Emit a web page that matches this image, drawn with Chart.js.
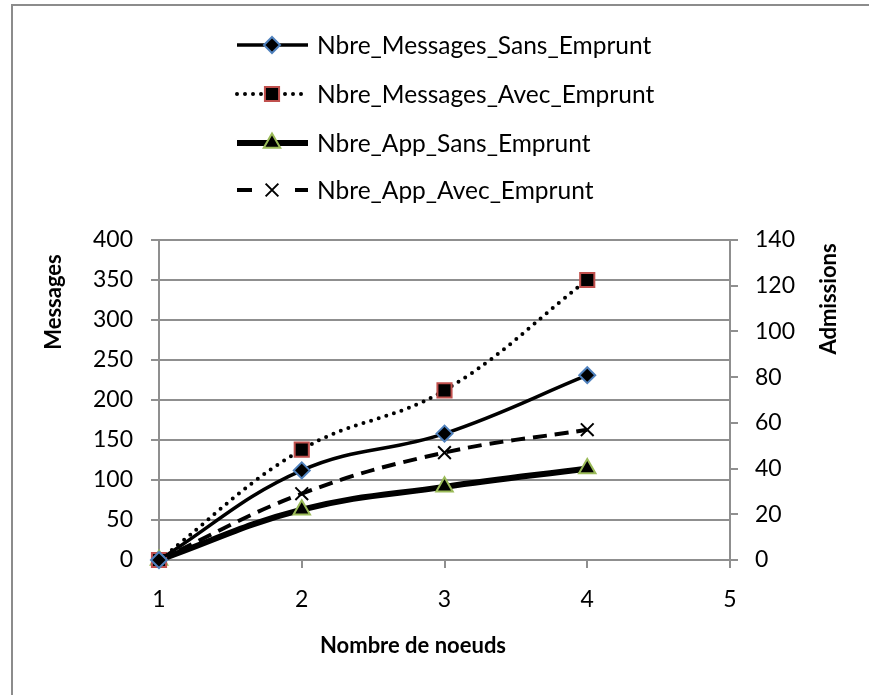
<!DOCTYPE html>
<html>
<head>
<meta charset="utf-8">
<style>
  html, body { margin: 0; padding: 0; background: #fff; }
  #wrap { width: 869px; height: 695px; position: relative; }
</style>
</head>
<body>
<div id="wrap"><canvas id="chart"></canvas></div>
<script src="https://cdn.jsdelivr.net/npm/chart.js@4/dist/chart.umd.min.js"></script>
<script>
// values
const nodes = [1, 2, 3, 4];
const msgSansEmprunt = [0, 112, 158, 231];
const msgAvecEmprunt = [0, 138, 212, 350];
const appSansEmprunt = [0, 22, 32, 40];
const appAvecEmprunt = [0, 29, 47, 57];

const seriesNames = [
  'Nbre_Messages_Sans_Emprunt',
  'Nbre_Messages_Avec_Emprunt',
  'Nbre_App_Sans_Emprunt',
  'Nbre_App_Avec_Emprunt'
];
const xTicks = [1, 2, 3, 4, 5];
const msgTicks = [0, 50, 100, 150, 200, 250, 300, 350, 400];
const admTicks = [0, 20, 40, 60, 80, 100, 120, 140];

const FONT = 'Lato, "Open Sans", sans-serif';
const GRID = '#8f8f8f';

const toPoints = (ys) => nodes.map((x, i) => ({ x: x, y: ys[i] }));

const datasets = [
  {
    label: seriesNames[0],
    data: toPoints(msgSansEmprunt),
    yAxisID: 'yMsg',
    borderColor: '#000',
    borderWidth: 3.5,
    pointStyle: 'rectRot',
    pointRadius: 8,
    pointBackgroundColor: '#000',
    pointBorderColor: '#4f81bd',
    pointBorderWidth: 2
  },
  {
    label: seriesNames[1],
    data: toPoints(msgAvecEmprunt),
    yAxisID: 'yMsg',
    borderColor: '#000',
    borderWidth: 4,
    borderDash: [0, 8],
    borderCapStyle: 'round',
    pointStyle: 'rect',
    pointRadius: 10,
    pointBackgroundColor: '#000',
    pointBorderColor: '#c0504d',
    pointBorderWidth: 2
  },
  {
    label: seriesNames[2],
    data: toPoints(appSansEmprunt),
    yAxisID: 'yAdm',
    borderColor: '#000',
    borderWidth: 6,
    pointStyle: 'triangle',
    pointRadius: 9.5,
    pointBackgroundColor: '#000',
    pointBorderColor: '#9bbb59',
    pointBorderWidth: 2
  },
  {
    label: seriesNames[3],
    data: toPoints(appAvecEmprunt),
    yAxisID: 'yAdm',
    borderColor: '#000',
    borderWidth: 4,
    borderDash: [14, 8],
    legendDash: [15, 43],
    pointStyle: 'crossRot',
    pointRadius: 9,
    pointBackgroundColor: '#000',
    pointBorderColor: '#000',
    pointBorderWidth: 2
  }
];

// legend stacked in one column above the plot, plus axis titles and frame
const decorPlugin = {
  id: 'decor',
  beforeDraw: (chart) => {
    const ctx = chart.ctx;
    ctx.save();
    ctx.strokeStyle = '#8c8c8c';
    ctx.lineWidth = 2;
    ctx.strokeRect(12, 5, 900, 800);
    ctx.restore();
  },
  afterDraw: (chart) => {
    const ctx = chart.ctx;
    const rows = [45, 94, 143, 190];
    chart.data.datasets.forEach((ds, i) => {
      const y = rows[i];
      ctx.save();
      ctx.strokeStyle = ds.borderColor;
      ctx.lineWidth = ds.borderWidth;
      ctx.lineCap = ds.borderCapStyle || 'butt';
      ctx.setLineDash(ds.legendDash || ds.borderDash || []);
      ctx.beginPath();
      ctx.moveTo(237, y);
      ctx.lineTo(308, y);
      ctx.stroke();
      ctx.setLineDash([]);
      ctx.lineCap = 'butt';
      ctx.fillStyle = ds.pointBackgroundColor;
      ctx.strokeStyle = ds.pointBorderColor;
      ctx.lineWidth = ds.pointBorderWidth;
      Chart.helpers.drawPoint(ctx, {
        pointStyle: ds.pointStyle,
        radius: ds.pointRadius,
        rotation: 0,
        borderWidth: ds.pointBorderWidth
      }, 272, y);
      ctx.fillStyle = '#000';
      ctx.font = '24.5px ' + FONT;
      ctx.textBaseline = 'middle';
      ctx.textAlign = 'left';
      ctx.fillText(ds.label, 317, y + 1);
      ctx.restore();
    });

    ctx.save();
    ctx.fillStyle = '#000';
    ctx.font = 'bold 22px ' + FONT;
    ctx.textAlign = 'center';
    ctx.textBaseline = 'middle';
    ctx.fillText('Nombre de noeuds', 413, 646);
    ctx.translate(54, 302);
    ctx.rotate(-Math.PI / 2);
    ctx.fillText('Messages', 0, 0);
    ctx.restore();

    ctx.save();
    ctx.fillStyle = '#000';
    ctx.font = 'bold 22px ' + FONT;
    ctx.textAlign = 'center';
    ctx.textBaseline = 'middle';
    ctx.translate(829, 299);
    ctx.rotate(-Math.PI / 2);
    ctx.fillText('Admissions', 0, 0);
    ctx.restore();
  }
};

new Chart(document.getElementById('chart'), {
  type: 'line',
  data: { datasets: datasets },
  options: {
    responsive: true,
    maintainAspectRatio: false,
    animation: false,
    clip: false,
    tension: 0.4,
    layout: { padding: { top: 240, left: 0, right: 0, bottom: 0 } },
    plugins: {
      legend: { display: false },
      tooltip: { enabled: false }
    },
    scales: {
      x: {
        type: 'linear',
        min: xTicks[0],
        max: xTicks[xTicks.length - 1],
        afterFit: (scale) => { scale.height = 135; },
        afterBuildTicks: (scale) => { scale.ticks = xTicks.map((v) => ({ value: v })); },
        ticks: { color: '#000', font: { family: FONT, size: 23 }, padding: 18 },
        grid: { drawOnChartArea: false, color: GRID, lineWidth: 2, tickLength: 8 },
        border: { color: GRID, width: 2 }
      },
      yMsg: {
        position: 'left',
        min: msgTicks[0],
        max: msgTicks[msgTicks.length - 1],
        afterFit: (scale) => { scale.width = 159; },
        afterBuildTicks: (scale) => { scale.ticks = msgTicks.map((v) => ({ value: v })); },
        ticks: { color: '#000', font: { family: FONT, size: 23 }, padding: 18 },
        grid: { color: GRID, lineWidth: 2, tickLength: 8 },
        border: { color: GRID, width: 2 }
      },
      yAdm: {
        position: 'right',
        min: admTicks[0],
        max: admTicks[admTicks.length - 1],
        afterFit: (scale) => { scale.width = 139; },
        afterBuildTicks: (scale) => { scale.ticks = admTicks.map((v) => ({ value: v })); },
        ticks: { color: '#000', font: { family: FONT, size: 23 }, padding: 17 },
        grid: { drawOnChartArea: false, color: GRID, lineWidth: 2, tickLength: 8 },
        border: { color: GRID, width: 2 }
      }
    }
  },
  plugins: [decorPlugin]
});
</script>
</body>
</html>
